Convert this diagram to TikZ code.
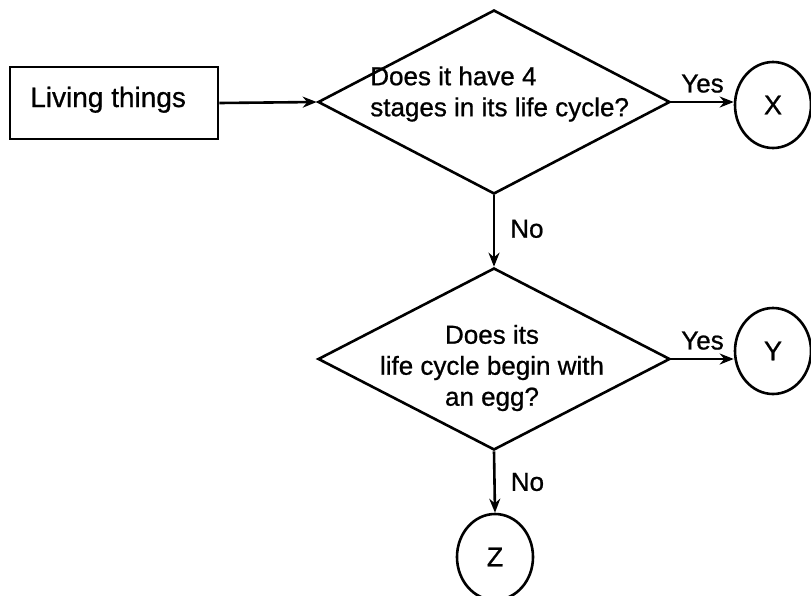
\documentclass[tikz,border=0pt]{standalone}
\usepackage{fontspec}
\setmainfont{Liberation Sans}[UprightFeatures={FakeBold=0.8}]
\usetikzlibrary{shapes.geometric,arrows.meta}
\begin{document}
\begin{tikzpicture}[x=1pt,y=-1pt,line width=2.6pt,
  boxst/.style={draw, rectangle, minimum width=208pt, minimum height=72pt, inner sep=0pt},
  dia/.style={diamond, draw, minimum width=352pt, minimum height=184pt, inner sep=0pt},
  term/.style={ellipse, draw, minimum width=76pt, minimum height=86pt, inner sep=0pt, font=\fontsize{27}{32}\selectfont},
  txt/.style={font=\fontsize{26}{31}\selectfont, inner sep=0pt},
  lbl/.style={font=\fontsize{26}{31}\selectfont, inner sep=3pt},
  arr/.style={-{Stealth[length=14pt,width=11pt]}}]
\useasboundingbox (0,0) rectangle (811,595);
\clip (0,0) rectangle (811,595);
\node[boxst] (box) at (114,103) {};
\node[txt, font=\fontsize{28}{32}\selectfont, anchor=base west] (lt) at (29,107) {Living things};
\node[dia] (d1) at (494,102) {};
\node[txt, align=left, anchor=west] (q1) at (369,94) {Does it have 4\\stages in its life cycle?};
\node[term] (X) at (773,105) {X};
\node[dia, minimum height=182pt] (d2) at (494,359) {};
\node[txt, align=center] (q2) at (492,368) {Does its\\life cycle begin with\\an egg?};
\node[term] (Y) at (773,351) {Y};
\node[term] (Z) at (495,557) {Z};
\draw[arr] (box.east) -- (d1.west);
\draw[arr] (d1.east) -- (d1.east -| X.west) node[lbl, midway, above, yshift=5pt] (yes1) {Yes};
\draw[arr] (d1.south) -- (d2.north) node[lbl, pos=0.47, right, xshift=12pt] (no1) {No};
\draw[arr] (d2.east) -- (d2.east -| Y.west) node[lbl, midway, above, yshift=5pt] (yes2) {Yes};
\draw[arr] (d2.south) -- (Z.north) node[lbl, midway, right, xshift=12pt] (no2) {No};
\end{tikzpicture}
\end{document}
